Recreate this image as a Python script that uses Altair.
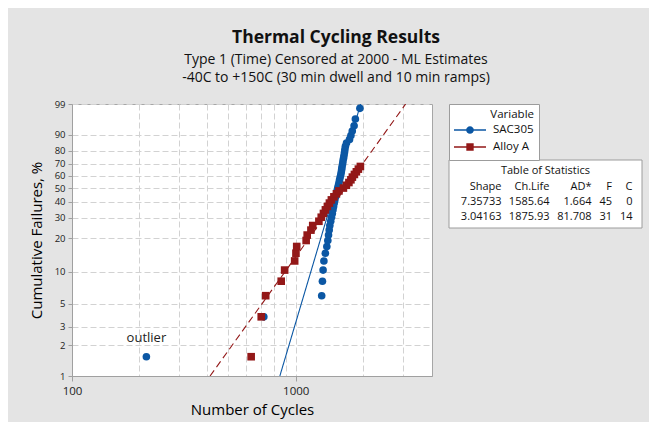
import altair as alt
import numpy as np
import pandas as pd

# ---------------- data ----------------
series_names = ["SAC305", "Alloy A"]
series_colors = ["#0b57a4", "#931818"]

sac_cycles = [215, 720, 1306, 1316, 1325, 1336, 1356, 1377, 1391, 1401,
              1411, 1420, 1433, 1445, 1457, 1467, 1476, 1486, 1495, 1507,
              1520, 1530, 1540, 1551, 1561, 1570, 1580, 1590, 1598, 1605,
              1611, 1620, 1626, 1635, 1643, 1651, 1658, 1667, 1686, 1739,
              1764, 1789, 1823, 1847, 1935]
sac_pct = [1.54, 3.74, 5.95, 8.15, 10.35, 12.56, 14.76, 16.96, 19.16, 21.37,
           23.57, 25.77, 27.97, 30.18, 32.38, 34.58, 36.78, 38.99, 41.19, 43.39,
           45.59, 47.80, 50.00, 52.20, 54.41, 56.61, 58.81, 61.01, 63.22, 65.42,
           67.62, 69.82, 72.03, 74.23, 76.43, 78.63, 80.84, 83.04, 85.24, 87.44,
           89.65, 91.85, 94.05, 96.26, 98.46]

alloy_cycles = [632, 701, 734, 861, 892, 989, 1002, 1010, 1113, 1125,
                1169, 1191, 1269, 1300, 1330, 1357, 1385, 1414, 1443, 1481,
                1520, 1560, 1633, 1684, 1728, 1764, 1791, 1829, 1866, 1905,
                1945]
alloy_pct = [1.54, 3.74, 5.95, 8.15, 10.35, 12.56, 14.76, 16.96, 19.16, 21.37,
             23.57, 25.77, 27.97, 30.18, 32.38, 34.58, 36.78, 38.99, 41.19, 43.39,
             45.59, 47.80, 50.00, 52.20, 54.41, 56.61, 58.81, 61.01, 63.22, 65.42,
             67.62]

# fitted Weibull lines (end points, 1% .. 99%)
fit_pct = [1, 99]
sac_fit_cycles = [849, 1951]
alloy_fit_cycles = [414, 3099]

y_tick_pct = [1, 2, 3, 5, 10, 20, 30, 40, 50, 60, 70, 80, 90, 99]
x_tick_vals = [100, 200, 300, 400, 500, 600, 700, 800, 900, 1000, 2000, 3000]
x_domain = [100, 4064]

stat_headers = ["Shape", "Ch.Life", "AD*", "F", "C"]
stat_shape = ["7.35733", "3.04163"]
stat_chlife = ["1585.64", "1875.93"]
stat_ad = ["1.664", "81.708"]
stat_f = ["45", "31"]
stat_c = ["0", "14"]

outlier_label = ["outlier"]

FONT = "Open Sans"


def weib(p):
    p = np.asarray(p, dtype=float) / 100.0
    return np.log(-np.log(1.0 - p))


pts = pd.DataFrame({
    "series": ["SAC305"] * len(sac_cycles) + ["Alloy A"] * len(alloy_cycles),
    "cycles": sac_cycles + alloy_cycles,
    "pct": sac_pct + alloy_pct,
})
pts["w"] = weib(pts["pct"])

fit = pd.DataFrame({
    "series": ["SAC305"] * 2 + ["Alloy A"] * 2,
    "cycles": sac_fit_cycles + alloy_fit_cycles,
    "pct": fit_pct + fit_pct,
})
fit["w"] = weib(fit["pct"])

outl = pd.DataFrame({"cycles": [sac_cycles[0]], "pct": [sac_pct[0]],
                     "label": outlier_label})
outl["w"] = weib(outl["pct"])

y_ticks = [float(v) for v in weib(y_tick_pct)]
y_dom = [float(weib([1])[0]), float(weib([99])[0])]

x_axis = alt.Axis(
    values=x_tick_vals,
    labelExpr="(datum.value == 100 || datum.value == 1000) ? datum.label : ''",
    tickOpacity={"condition": {"test": "datum.value == 100 || datum.value == 1000", "value": 1}, "value": 0},
    grid=True, gridDash=[6, 3], gridColor="#d2d2d2",
    tickSize=5, labelPadding=4, labelFontSize=11.5, titleFontSize=15,
    titlePadding=6, format="d", labelFlush=False, labelOverlap=False,
)
y_axis = alt.Axis(
    values=y_ticks,
    labelExpr="format(100*(1-exp(-exp(datum.value))), '.0f')",
    grid=True, gridDash=[6, 3], gridColor="#d2d2d2",
    tickSize=4, labelPadding=3, labelFontSize=9.5, titleFontSize=15,
    titlePadding=10, labelFlush=False, labelOverlap=False,
)

X = alt.X("cycles:Q", scale=alt.Scale(type="log", domain=x_domain, nice=False),
          axis=x_axis, title="Number of Cycles")
Y = alt.Y("w:Q", scale=alt.Scale(domain=y_dom, nice=False, zero=False),
          axis=y_axis, title="Cumulative Failures, %")

col_scale = alt.Scale(domain=series_names, range=series_colors)

fit_layer = alt.Chart(fit).mark_line(strokeWidth=1.1, clip=True).encode(
    x=X, y=Y,
    color=alt.Color("series:N", scale=col_scale, legend=None),
    strokeDash=alt.StrokeDash("series:N",
                              scale=alt.Scale(domain=series_names, range=[[1, 0], [7, 4]]),
                              legend=None),
)

point_layer = alt.Chart(pts).mark_point(filled=True, opacity=1, size=58).encode(
    x=X, y=Y,
    color=alt.Color("series:N", scale=col_scale, legend=None),
    shape=alt.Shape("series:N", scale=alt.Scale(domain=series_names, range=["circle", "square"]),
                    legend=None),
)

circ_path = ("M-1,-0.045H1V0.045H-1Z"
             "M0.24,0A0.24,0.24 0 1,1 -0.24,0A0.24,0.24 0 1,1 0.24,0Z")
sq_path = ("M-1,-0.045H1V0.045H-1Z"
           "M-0.23,-0.23H0.23V0.23H-0.23Z")

leg_kw = dict(
    orient="none", legendX=377, legendY=0, title="Variable",
    titleAnchor="end", titleFontWeight="normal", titleFontSize=11.5, titleFont=FONT,
    labelFontSize=11.5, labelFont=FONT, symbolSize=1024, clipHeight=15,
    symbolOpacity=1, symbolStrokeWidth=0, fillColor="white", strokeColor="#9c9c9c",
    padding=5, labelOffset=7, titlePadding=2, titleColor="#111", labelColor="#111",
)
legend_layer = alt.Chart(pts).mark_point(filled=True, opacity=0).encode(
    x=X, y=Y,
    color=alt.Color("series:N", scale=alt.Scale(domain=series_names, range=series_colors),
                    legend=alt.Legend(**leg_kw)),
    shape=alt.Shape("series:N", scale=alt.Scale(domain=series_names, range=[circ_path, sq_path]),
                    legend=alt.Legend(**leg_kw)),
)

outlier_layer = alt.Chart(outl).mark_text(dy=-19, fontSize=13, font=FONT, color="#222").encode(
    x=X, y=Y, text="label:N")

# table of statistics (annotation box)
one = pd.DataFrame({"k": [0]})
tbl_box = alt.Chart(one).mark_rect(fill="white", stroke="#9c9c9c", strokeWidth=1).encode(
    x=alt.value(377), x2=alt.value(570), y=alt.value(56), y2=alt.value(124))
tbl_title = alt.Chart(one).mark_text(fontSize=11, font=FONT, color="#111", baseline="middle").encode(
    x=alt.value(473.5), y=alt.value(67), text=alt.value("Table of Statistics"))

cols = [
    ([stat_headers[0]] + stat_shape, 429.5),
    ([stat_headers[1]] + stat_chlife, 477.5),
    ([stat_headers[2]] + stat_ad, 519.5),
    ([stat_headers[3]] + stat_f, 540),
    ([stat_headers[4]] + stat_c, 560.5),
]
tbl_cols = [
    alt.Chart(one).mark_text(fontSize=11, font=FONT, color="#111", align="right",
                             baseline="middle", lineHeight=15.3).encode(
        x=alt.value(xp), y=alt.value(82.5), text=alt.value(txt))
    for txt, xp in cols
]

chart = alt.layer(
    fit_layer, point_layer, legend_layer, outlier_layer, tbl_box, tbl_title, *tbl_cols
).resolve_scale(
    color="independent", shape="independent"
).properties(
    width=360, height=272,
    autosize=alt.AutoSizeParams(type="none"),
    padding={"left": 64, "top": 96, "right": 217, "bottom": 46},
    background="#e4e4e4",
    title=alt.TitleParams(
        text="Thermal Cycling Results",
        subtitle=["Type 1 (Time) Censored at 2000 - ML Estimates",
                  "-40C to +150C (30 min dwell and 10 min ramps)"],
        anchor="middle", frame="group", dx=84, offset=14,
        fontSize=17.5, font=FONT, fontWeight="bold", color="#111",
        subtitleFontSize=14, subtitleFont=FONT, subtitleColor="#111",
        subtitlePadding=7, subtitleLineHeight=18,
    ),
).configure_view(
    stroke="#a6a6a6", fill="white"
).configure_axis(
    labelFont=FONT, titleFont=FONT, labelColor="#222", titleColor="#000",
    domainColor="#a0a0a0", tickColor="#a0a0a0", titleFontWeight="normal",
)

chart.save("out.html", embed_options={"renderer": "svg", "actions": False})
